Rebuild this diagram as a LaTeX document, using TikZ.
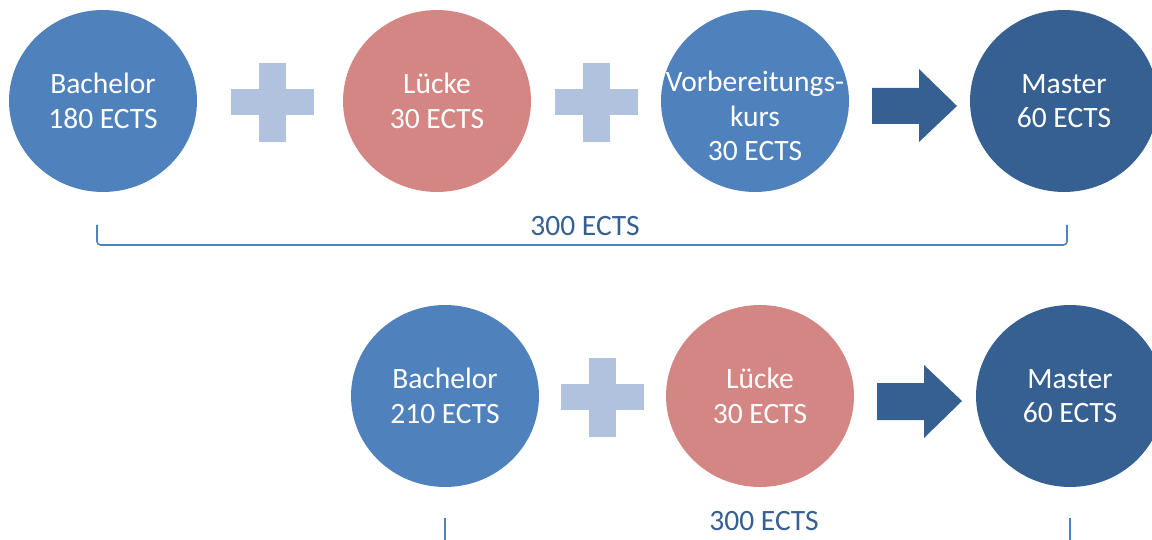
\documentclass[tikz,border=0pt]{standalone}
\usepackage{fontspec}
\setmainfont{Carlito}
\usepackage{tikz}
\usepackage{xcolor}
\usetikzlibrary{shapes.geometric,positioning}
\definecolor{bachblue}{RGB}{79,129,189}
\definecolor{lueckered}{RGB}{211,134,131}
\definecolor{masterblue}{RGB}{54,96,146}
\definecolor{plusblue}{RGB}{176,194,222}

\begin{document}
\begin{tikzpicture}[x=0.02cm, y=-0.02cm,
	disc/.style={ellipse, minimum width=3.76cm, minimum height=3.64cm, inner sep=0pt, text=white, align=center, font=\fontsize{16.8}{19.6}\selectfont},
	bachdisc/.style={disc, fill=bachblue},
	lueckedisc/.style={disc, fill=lueckered},
	masterdisc/.style={disc, fill=masterblue},
	sumlabel/.style={text=masterblue, font=\fontsize{16.8}{19.6}\selectfont},
	brace/.style={draw=bachblue, line width=0.9pt, rounded corners=2pt}]
			\useasboundingbox (0,0) rectangle (1152,540);
			% obere Reihe
			\node[bachdisc] (bach1) at (103,101) {Bachelor\\180 ECTS};
			\fill[plusblue] (259,63) rectangle (286,142);
			\fill[plusblue] (231,89) rectangle (314,115);
			\node[lueckedisc] (luecke1) at (437,101) {Lücke\\30 ECTS};
			\fill[plusblue] (583,63) rectangle (610,142);
			\fill[plusblue] (555,89) rectangle (638,115);
			\node[bachdisc] (vork) at (755,101) {};
			\node[text=white, align=center, font=\fontsize{16.8}{19.6}\selectfont] (vorktext) at (755,116) {Vorbereitungs-\\kurs\\30 ECTS};
			\fill[masterblue] (872,88) -- (919,88) -- (919,69) -- (957,106) -- (919,142) -- (919,124) -- (872,124) -- cycle;
			\node[masterdisc] (master1) at (1064,101) {Master\\60 ECTS};
			\draw[brace] (97,225) -- (97,245) -- (1067,245) -- (1067,225);
			\node[sumlabel] (sum1) at (585,226) {300 ECTS};
			% untere Reihe
			\node[bachdisc] (bach2) at (445,396) {Bachelor\\210 ECTS};
			\fill[plusblue] (589,358) rectangle (616,437);
			\fill[plusblue] (561,384) rectangle (644,410);
			\node[lueckedisc] (luecke2) at (760,396) {Lücke\\30 ECTS};
			\fill[masterblue] (877,383) -- (924,383) -- (924,365) -- (962,401) -- (924,438) -- (924,420) -- (877,420) -- cycle;
			\node[masterdisc] (master2) at (1070,396) {Master\\60 ECTS};
			\draw[brace] (445,518) -- (445,560);
			\draw[brace] (1070,518) -- (1070,560);
			\node[sumlabel] (sum2) at (764,521) {300 ECTS};
		\end{tikzpicture}
\end{document}
